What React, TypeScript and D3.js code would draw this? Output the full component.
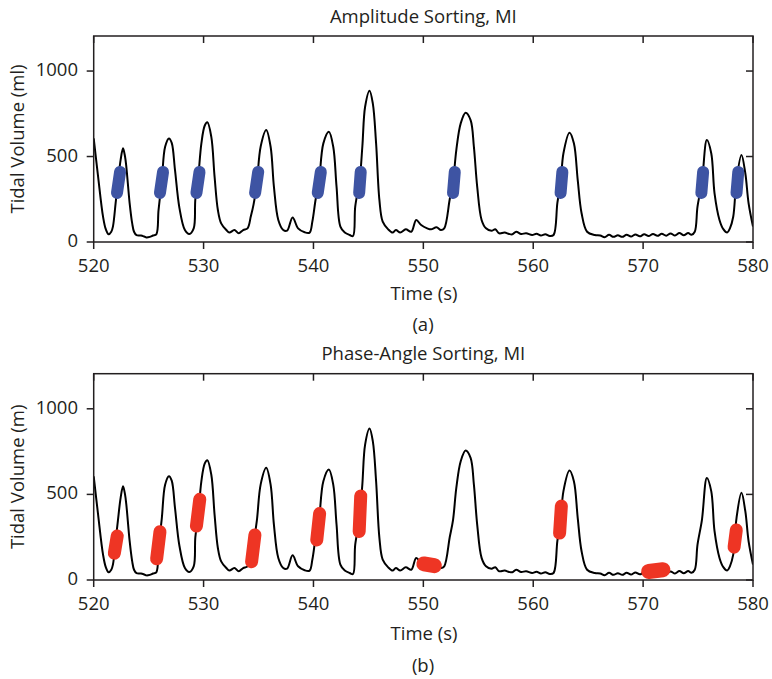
import React from "react";
import * as d3 from "d3";

// Tidal volume trace (time in s, volume in ml)
const times = [
  520.0, 520.4, 520.85, 521.1, 521.36, 521.6, 521.75, 522.0, 522.2, 522.45, 522.67, 522.85, 522.97, 523.27, 523.5, 523.67,
  523.9, 524.3, 524.6, 524.8, 525.1, 525.4, 525.7, 525.9, 526.2, 526.5, 526.85, 527.1, 527.4, 527.8, 528.3, 528.7,
  529.1, 529.25, 529.5, 529.8, 530.1, 530.34, 530.7, 531.0, 531.3, 531.6, 532.07, 532.35, 532.8, 533.2, 533.6, 534.0,
  534.3, 534.55, 534.85, 535.2, 535.7, 536.1, 536.4, 536.8, 537.25, 537.6, 538.1, 538.6, 539.2, 539.65, 539.9, 540.2,
  540.5, 540.9, 541.4, 541.8, 542.1, 542.45, 542.85, 543.3, 543.6, 543.8, 544.2, 544.45, 544.7, 545.1, 545.4, 545.7,
  546.0, 546.3, 546.8, 547.2, 547.5, 547.9, 548.4, 548.9, 549.35, 549.8, 550.35, 550.7, 551.2, 551.6, 551.9, 552.4,
  552.7, 553.0, 553.4, 553.85, 554.3, 554.6, 554.9, 555.3, 555.7, 556.2, 556.55, 556.9, 557.4, 557.8, 558.1, 558.45,
  558.9, 559.35, 559.9, 560.3, 560.7, 561.1, 561.5, 561.85, 562.2, 562.5, 562.75, 563.3, 563.7, 564.05, 564.4, 564.9,
  565.6, 566.1, 566.5, 566.9, 567.3, 567.7, 568.1, 568.5, 568.9, 569.3, 569.7, 570.1, 570.5, 570.9, 571.3, 571.7,
  572.1, 572.5, 572.9, 573.3, 573.7, 574.1, 574.4, 574.7, 574.95, 575.35, 575.8, 576.2, 576.5, 576.95, 577.3, 577.65,
  577.9, 578.2, 578.5, 578.95, 579.3, 579.6, 580.0,
];
const volumes = [
  606, 382, 148, 75, 45, 60, 90, 230, 345, 480, 548, 500, 440, 228, 110, 60,
  40, 38, 32, 27, 30, 38, 45, 187, 362, 557, 606, 580, 420, 200, 70, 47,
  80, 250, 370, 577, 680, 700, 616, 382, 187, 109, 70, 55, 70, 51, 70, 80,
  150, 220, 348, 560, 655, 557, 324, 129, 70, 66, 144, 80, 57, 55, 120, 250,
  348, 577, 645, 557, 324, 90, 55, 41, 35, 207, 360, 560, 791, 885, 811, 577,
  246, 119, 74, 55, 70, 55, 74, 60, 129, 99, 80, 74, 86, 70, 80, 250,
  350, 538, 694, 756, 713, 557, 324, 129, 80, 66, 74, 51, 55, 47, 45, 60,
  47, 51, 41, 48, 38, 45, 35, 41, 230, 350, 519, 639, 577, 362, 168, 60,
  41, 38, 28, 42, 30, 40, 30, 42, 32, 44, 33, 45, 35, 47, 36, 48,
  37, 50, 38, 52, 40, 52, 42, 60, 207, 350, 596, 519, 285, 129, 75, 55,
  80, 148, 362, 509, 402, 226, 90,
];

// Amplitude-sorted markers: [t low end, t high end, v low end, v high end]
const ampT0 = [522.12, 526.03, 529.35, 534.69, 540.39, 544.16, 552.70, 562.49, 575.30, 578.50];
const ampT1 = [522.40, 526.31, 529.63, 534.97, 540.67, 544.30, 552.86, 562.65, 575.46, 578.66];
const ampV0 = [287, 287, 287, 287, 287, 287, 287, 287, 287, 287];
const ampV1 = [410, 410, 410, 410, 410, 410, 410, 410, 410, 410];

// Phase-angle-sorted markers
const phT0 = [521.88, 525.73, 529.35, 534.37, 540.30, 544.16, 550.05, 562.40, 570.50, 578.28];
const phT1 = [522.14, 526.03, 529.65, 534.67, 540.56, 544.30, 551.00, 562.56, 571.80, 578.48];
const phV0 = [157, 124, 315, 107, 234, 283, 94, 274, 50, 192];
const phV1 = [257, 282, 471, 263, 388, 491, 84, 432, 60, 292];

const xTicks = [520, 530, 540, 550, 560, 570, 580];
const yTicks = [0, 500, 1000];

const FONT = "'Open Sans', 'Noto Sans', sans-serif";
const FS = 18.5;

const trace = times.map((t, i) => ({ t, v: volumes[i] }));

function Panel({ top, bottom, title, titleY, yLabel, xLabelY, tagY, tag, t0, t1, v0, v1, color, sw }) {
  const left = 93.7;
  const right = 753;
  const x = d3.scaleLinear().domain([520, 580]).range([left, right]);
  const y = d3.scaleLinear().domain([0, 1205]).range([bottom, top]);
  const line = d3
    .line<{ t: number; v: number }>()
    .x((d) => x(d.t))
    .y((d) => y(d.v))
    .curve(d3.curveCatmullRom.alpha(0.5));
  const clipId = `clip-${Math.round(top)}`;
  return (
    <g>
      <defs>
        <clipPath id={clipId}>
          <rect x={left} y={top} width={right - left} height={bottom - top} />
        </clipPath>
      </defs>
      <text x={(left + right) / 2} y={titleY} textAnchor="middle" fontFamily={FONT} fontSize={FS} fill="#231f20">
        {title}
      </text>
      <path d={line(trace) || ""} fill="none" stroke="#000" strokeWidth={2} clipPath={`url(#${clipId})`} />
      {t0.map((_, i) => {
        const flat = Math.abs(y(v1[i]) - y(v0[i])) < Math.abs(x(t1[i]) - x(t0[i]));
        return (
          <line
            key={i}
            x1={x(t0[i])}
            y1={y(v0[i])}
            x2={x(t1[i])}
            y2={y(v1[i])}
            stroke={color}
            strokeWidth={flat ? sw + 2 : sw}
            strokeLinecap="round"
          />
        );
      })}
      <rect x={left} y={top} width={right - left} height={bottom - top} fill="none" stroke="#231f20" strokeWidth={1.5} />
      {xTicks.map((t) => (
        <g key={t}>
          <line x1={x(t)} x2={x(t)} y1={bottom} y2={bottom + 7} stroke="#231f20" strokeWidth={1.5} />
          <line x1={x(t)} x2={x(t)} y1={top} y2={top + 7} stroke="#231f20" strokeWidth={1.5} />
          <text x={x(t)} y={bottom + 30} textAnchor="middle" fontFamily={FONT} fontSize={FS} fill="#231f20">
            {t}
          </text>
        </g>
      ))}
      {yTicks.map((v) => (
        <g key={v}>
          <line x1={left - 7} x2={left} y1={y(v)} y2={y(v)} stroke="#231f20" strokeWidth={1.5} />
          <line x1={right - 7} x2={right} y1={y(v)} y2={y(v)} stroke="#231f20" strokeWidth={1.5} />
          <text x={78} y={y(v) + 5} textAnchor="end" fontFamily={FONT} fontSize={FS} fill="#231f20">
            {v}
          </text>
        </g>
      ))}
      <text
        transform={`translate(24,${(top + bottom) / 2 + 0}) rotate(-90)`}
        textAnchor="middle"
        fontFamily={FONT}
        fontSize={FS}
        fill="#231f20"
      >
        {yLabel}
      </text>
      <text x={424} y={xLabelY} textAnchor="middle" fontFamily={FONT} fontSize={FS} fill="#231f20">
        Time (s)
      </text>
      <text x={423} y={tagY} textAnchor="middle" fontFamily={FONT} fontSize={FS} fill="#231f20">
        {tag}
      </text>
    </g>
  );
}

export default function App() {
  return (
    <svg width={772} height={679} style={{ position: "absolute", left: 0, top: 0, background: "#fff" }}>
      <rect width={772} height={679} fill="#fff" />
      <Panel
        top={36}
        bottom={242}
        title="Amplitude Sorting, MI"
        titleY={23}
        yLabel="Tidal Volume (ml)"
        xLabelY={300}
        tagY={331}
        tag="(a)"
        t0={ampT0}
        t1={ampT1}
        v0={ampV0}
        v1={ampV1}
        color="#3e54a3"
        sw={12}
      />
      <Panel
        top={373.7}
        bottom={580}
        title="Phase-Angle Sorting, MI"
        titleY={360}
        yLabel="Tidal Volume (m)"
        xLabelY={640}
        tagY={672}
        tag="(b)"
        t0={phT0}
        t1={phT1}
        v0={phV0}
        v1={phV1}
        color="#ee3524"
        sw={13}
      />
    </svg>
  );
}
